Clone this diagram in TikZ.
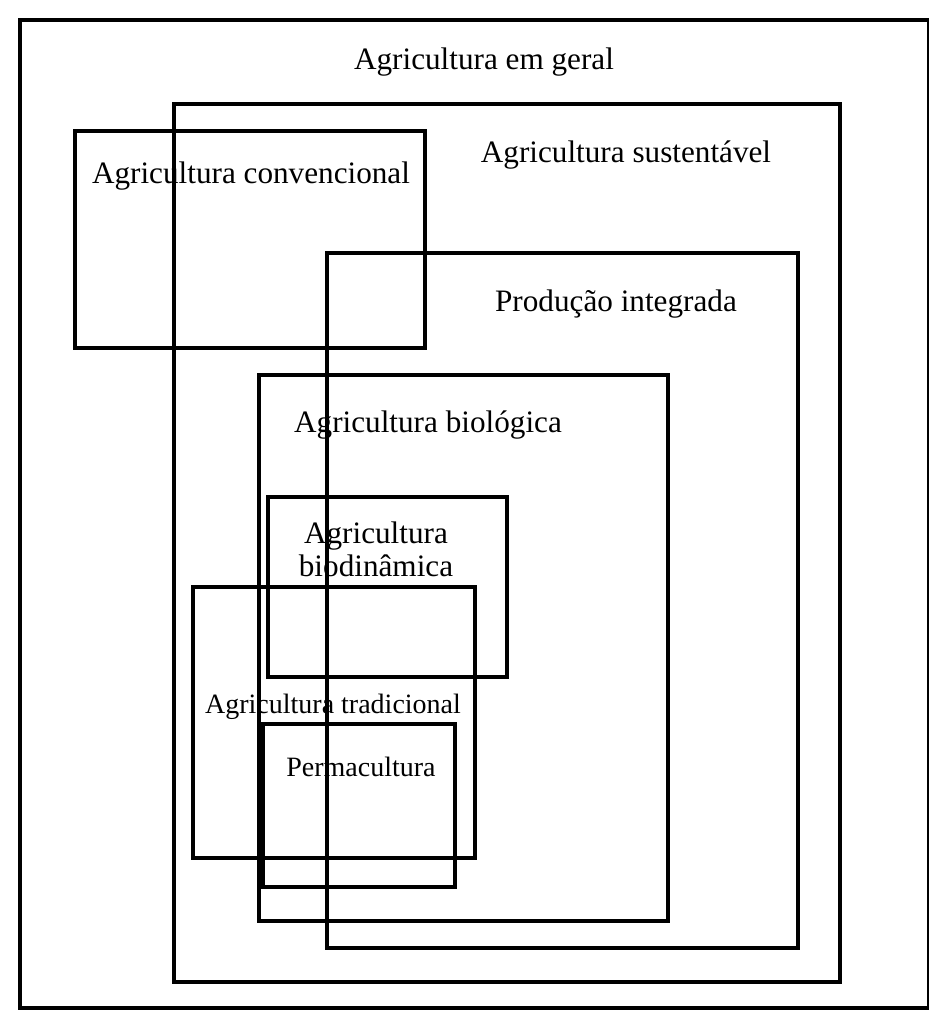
\documentclass[tikz,border=0pt]{standalone}
\usepackage{fontspec}
\setmainfont{Liberation Serif}
\usepackage{tikz}

\begin{document}
\begin{tikzpicture}[x=0.5pt, y=-0.5pt, line width=1.8pt,
        lbl/.style={anchor=base, inner sep=0pt, font=\fontsize{15.6}{16.5}\selectfont},
        smalllbl/.style={lbl, font=\fontsize{14}{16.5}\selectfont}]
            \useasboundingbox (0,0) rectangle (928,1017);
            \draw (20,20) rectangle (929,1008);
            \draw (174,104) rectangle (840,982);
            \draw (75,131) rectangle (425,348);
            \draw (327,253) rectangle (798,948);
            \draw (259,375) rectangle (668,921);
            \draw (268,497) rectangle (507,677);
            \draw (193,587) rectangle (475,858);
            \draw (263,724) rectangle (455,887);
            \node[lbl] (geral) at (484,69) {Agricultura em geral};
            \node[lbl] (sustentavel) at (626,162) {Agricultura sustentável};
            \node[lbl] (convencional) at (251,183) {Agricultura convencional};
            \node[lbl] (integrada) at (616,311) {Produção integrada};
            \node[lbl] (biologica) at (428,432) {Agricultura biológica};
            \node[lbl, align=center] (biodinamica) at (376,576) {Agricultura\\biodinâmica};
            \node[smalllbl] (tradicional) at (333,713) {Agricultura tradicional};
            \node[smalllbl] (permacultura) at (361,776) {Permacultura};
        \end{tikzpicture}
\end{document}
